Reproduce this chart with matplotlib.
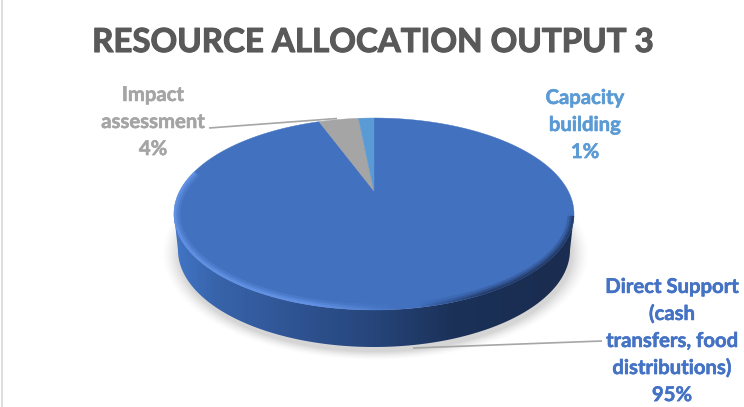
"""Resource allocation pie drawn as a 3D disc in pixel coordinates."""

import matplotlib
matplotlib.use("Agg")
import matplotlib.patheffects as pe
import matplotlib.pyplot as plt
import numpy as np
from matplotlib.collections import LineCollection
from matplotlib.colors import LinearSegmentedColormap, to_rgb
from matplotlib.patches import Polygon

TITLE = "RESOURCE ALLOCATION OUTPUT 3"
CATEGORIES = ["Direct Support\n(cash\ntransfers, food\ndistributions)", "Impact\nassessment", "Capacity\nbuilding"]
VALUES = [95.0, 3.6, 1.4]
COLORS = ["#4271C0", "#A5A5A5", "#5B9BD5"]
LABEL_XY = [(672, 341), (153, 122), (585, 125)]
LABEL_COLORS = ["#4472C4", "#A5A5A5", "#5B9BD5"]
LEADERS = [((602, 341), (413, 348)), ((209, 128), (337, 118.5))]

# disc geometry, pixels
CX, CY, A, B = 374.0, 214.0, 200.0, 96.0
APEX_Y = 191.0
DEPTH = 36.0
LOWER_B = 97.0
Q = 0.41

plt.rcParams["font.family"] = ["Lato", "DejaVu Sans"]


def rim_point(theta):
    """Where a ray from the apex hits the ellipse; theta runs clockwise from the top."""
    dx, dy = np.sin(theta), -Q * np.cos(theta)
    y0 = APEX_Y - CY
    a = (dx / A) ** 2 + (dy / B) ** 2
    b = 2 * y0 * dy / B**2
    c = (y0 / B) ** 2 - 1
    t = (-b + np.sqrt(b**2 - 4 * a * c)) / (2 * a)
    return CX + t * dx, APEX_Y + t * dy


def wedge_poly(start, end):
    th = np.linspace(start, end, 300)
    pts = [rim_point(t) for t in th]
    return [(CX, APEX_Y)] + pts


fig = plt.figure(figsize=(7.44, 4.07), dpi=100)
ax = fig.add_axes([0, 0, 1, 1])
ax.set_xlim(0, 744)
ax.set_ylim(407, 0)
ax.axis("off")

# soft shadow below the disc
yy, xx = np.mgrid[0:407, 0:744]
dist = np.sqrt(((xx - 375) / 200.0) ** 2 + ((yy - 253) / 100.0) ** 2)
alpha = np.clip((1.07 - dist) / 0.09, 0, 1) ** 1.5 * 0.3
shadow = np.zeros((407, 744, 4))
shadow[..., :3] = 0.45
shadow[..., 3] = alpha
ax.imshow(shadow, extent=(0, 744, 407, 0), aspect="auto", zorder=1, interpolation="bilinear")

# side wall with a left to right gradient
t = np.linspace(0, np.pi, 400)
upper = np.column_stack([CX + A * np.cos(t), CY + B * np.sin(t)])
lower = np.column_stack([CX + (A - 4) * np.cos(t[::-1]), CY + DEPTH + LOWER_B * np.sin(t[::-1])])
side = Polygon(np.vstack([upper, lower]), closed=True, facecolor="none", edgecolor="none")
ax.add_patch(side)
side_cmap = LinearSegmentedColormap.from_list(
    "side",
    [(0, "#4275c6"), (0.1, "#3864ab"), (0.3, "#2f5493"), (0.5, "#26457a"), (0.7, "#1b3158"), (1, "#1a2c4f")],
)
grad = np.linspace(0, 1, 400).reshape(1, -1)
img = ax.imshow(grad, cmap=side_cmap, extent=(CX - A, CX + A, 360, 200), aspect="auto", zorder=2)
img.set_clip_path(side)

# top face, one wedge per value, clockwise from 12 o'clock
angle = 0.0
for value, color in zip(VALUES, COLORS):
    sweep = value / sum(VALUES) * 2 * np.pi
    ax.add_patch(Polygon(wedge_poly(angle, angle + sweep), closed=True, facecolor=color,
                         edgecolor=color, linewidth=0.3, zorder=3))
    angle += sweep

# blurred rim on the face edge: light on the left, dark on the right
t_rim = np.linspace(0.02, np.pi + 0.45, 500)
light, dark = np.array(to_rgb("#6f9ff2")), np.array(to_rgb("#1a2c4f"))
for inset, width, strength in [(3.0, 5.0, 0.22), (2.0, 3.0, 0.35), (1.0, 1.6, 0.5)]:
    pts = np.column_stack([CX + (A - inset) * np.cos(t_rim), CY + (B - inset) * np.sin(t_rim)]).reshape(-1, 1, 2)
    segs = np.concatenate([pts[:-1], pts[1:]], axis=1)
    mid = segs[:, 0, 0]
    rim_colors = np.zeros((len(segs), 4))
    is_light = mid < 400
    rim_colors[is_light, :3] = light
    rim_colors[~is_light, :3] = dark
    rim_colors[is_light, 3] = strength * np.clip((400 - mid[is_light]) / 90, 0, 1)
    rim_colors[~is_light, 3] = strength * np.clip((mid[~is_light] - 420) / 70, 0, 1)
    ax.add_collection(LineCollection(segs, colors=rim_colors, linewidths=width, zorder=4))

# leader lines
for (x0, y0), (x1, y1) in LEADERS:
    ax.plot([x0, x1], [y0, y1], color="#A6A6A6", linewidth=1.2, zorder=5, solid_capstyle="butt")

# labels
for name, value, (x, y), color in zip(CATEGORIES, VALUES, LABEL_XY, LABEL_COLORS):
    ax.text(x, y, f"{name}\n{round(value)}%", ha="center", va="center", color=color, fontsize=14.6,
            fontweight="bold", linespacing=1.44, zorder=6,
            path_effects=[pe.withStroke(linewidth=0.4, foreground=color)])

ax.text(372.5, 42.5, TITLE, ha="center", va="center", color="#595959", fontsize=23.8, fontweight="bold", zorder=6,
        path_effects=[pe.withStroke(linewidth=0.8, foreground="#595959")])

# chart frame, only the left edge is in view
ax.plot([2, 2], [0, 407], color="#D9D9D9", linewidth=1.2, zorder=6)

fig.savefig("out.png", dpi=100)
